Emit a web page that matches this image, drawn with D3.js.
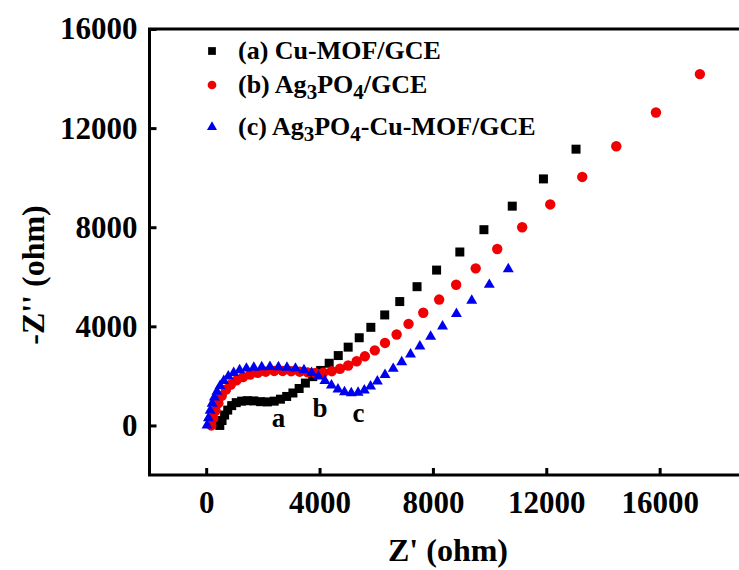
<!DOCTYPE html>
<html>
<head>
<meta charset="utf-8">
<script src="https://cdn.jsdelivr.net/npm/d3@7"></script>
<style>
  body { margin: 0; background: #fff; }
  text { font-family: "Liberation Serif", "Times New Roman", serif; font-weight: bold; }
</style>
</head>
<body>
<svg id="chart"></svg>
<script>
// Nyquist data (ohm)
const cuMofX = [480, 560, 650, 760, 900, 1060, 1250, 1450, 1680, 1920, 2160, 2400, 2620, 2840, 3060, 3280, 3500, 3760, 4040, 4340, 4660, 5010, 5400, 5810, 6300, 6830, 7440, 8130, 8950, 9800, 10800, 11900, 13050]
const cuMofY = [0, 200, 420, 620, 800, 920, 980, 1000, 990, 960, 950, 980, 1060, 1170, 1310, 1490, 1710, 1970, 2220, 2510, 2820, 3160, 3540, 3960, 4460, 5000, 5600, 6270, 7000, 7900, 8850, 9950, 11150]

const ag3po4X = [180, 250, 330, 430, 550, 700, 870, 1070, 1300, 1550, 1820, 2100, 2400, 2700, 3000, 3300, 3580, 3850, 4130, 4430, 4720, 5010, 5310, 5600, 5950, 6310, 6720, 7140, 7660, 8220, 8820, 9510, 10270, 11150, 12140, 13270, 14470, 15870, 17420]
const ag3po4Y = [0, 300, 600, 900, 1200, 1450, 1650, 1820, 1950, 2050, 2120, 2170, 2200, 2200, 2190, 2170, 2140, 2120, 2130, 2190, 2290, 2420, 2590, 2790, 3030, 3330, 3670, 4100, 4550, 5080, 5680, 6340, 7120, 8000, 8920, 10030, 11270, 12630, 14180]

const compositeX = [30, 80, 140, 210, 290, 380, 490, 620, 780, 970, 1180, 1420, 1680, 1960, 2250, 2550, 2850, 3150, 3450, 3720, 3960, 4190, 4420, 4650, 4880, 5120, 5360, 5580, 5800, 6040, 6310, 6600, 6900, 7210, 7540, 7920, 8340, 8830, 9370, 9990, 10660]
const compositeY = [0, 300, 600, 880, 1130, 1370, 1600, 1800, 1980, 2120, 2230, 2300, 2340, 2360, 2370, 2360, 2340, 2300, 2230, 2120, 1980, 1800, 1620, 1460, 1350, 1310, 1330, 1420, 1580, 1780, 2040, 2290, 2560, 2870, 3190, 3590, 4000, 4500, 5040, 5680, 6310]

const xTicks = [0, 4000, 8000, 12000, 16000]
const yTicks = [0, 4000, 8000, 12000, 16000]

// curve letters next to the arcs
const curveLabels = ['a', 'b', 'c']
const curveLabelX = [2550, 4020, 5370]
const curveLabelY = [-80, 330, 130]

const legendNames = ['(a) Cu-MOF/GCE', '(b) Ag3PO4/GCE', '(c) Ag3PO4-Cu-MOF/GCE']

const width = 739
const height = 570

const series = [
    {key: 'a', colour: '#000000', shape: d3.symbolSquare, size: 81, value: cuMofX.map((x, i) => ({x, y: cuMofY[i]}))},
    {key: 'b', colour: '#f00000', shape: d3.symbolCircle, size: 85, value: ag3po4X.map((x, i) => ({x, y: ag3po4Y[i]}))},
    {key: 'c', colour: '#0000f0', shape: d3.symbolTriangle, size: 52, value: compositeX.map((x, i) => ({x, y: compositeY[i]}))}
]

// set up svg container
const svg = d3.select('#chart')
    .attr('width', width)
    .attr('height', height)

// set up scale (frame runs off the right edge like the source image)
const xScale = d3.scaleLinear()
    .domain([-2000, 20000])
    .range([149.5, 773])
const yScale = d3.scaleLinear()
    .domain([-2000, 16000])
    .range([475, 29])

// draw dots
svg.selectAll('.series')
    .data(series)
    .enter()
        .append('g')
        .attr('class', 'series')
        .style('fill', d => d.colour)
    .each(function (s) {
        d3.select(this).selectAll('path')
            .data(s.value)
            .enter()
            .append('path')
                .attr('d', d3.symbol().type(s.shape).size(s.size))
                .attr('transform', d => `translate(${xScale(d.x)}, ${yScale(d.y)})`)
    })

// frame
svg.append('rect')
    .attr('x', xScale(-2000))
    .attr('y', yScale(16000))
    .attr('width', xScale(20000) - xScale(-2000))
    .attr('height', yScale(-2000) - yScale(16000))
    .style('fill', 'none')
    .style('stroke', '#000')
    .style('stroke-width', 3)

// set up axes, ticks point inwards
const xAxis = d3.axisBottom(xScale)
    .tickValues(xTicks)
    .tickSizeInner(-7)
    .tickSizeOuter(0)
    .tickPadding(16)
    .tickFormat(d3.format('d'))
const yAxis = d3.axisLeft(yScale)
    .tickValues(yTicks)
    .tickSizeInner(-7)
    .tickSizeOuter(0)
    .tickPadding(12)
    .tickFormat(d3.format('d'))

const gx = svg.append('g')
    .attr('transform', `translate(0, ${yScale(-2000)})`)
    .call(xAxis)
const gy = svg.append('g')
    .attr('transform', `translate(${xScale(-2000)}, 0)`)
    .call(yAxis)

for (const g of [gx, gy]) {
    g.select('.domain').remove()
    g.selectAll('.tick line').style('stroke', '#000').style('stroke-width', 3)
    g.selectAll('.tick text')
        .style('font-family', '"Liberation Serif", serif')
        .style('font-weight', 'bold')
        .style('font-size', '31px')
        .style('fill', '#000')
}

// axis titles
svg.append('text')
    .attr('x', 448)
    .attr('y', 561)
    .attr('text-anchor', 'middle')
    .style('font-size', '32px')
    .text("Z' (ohm)")
svg.append('text')
    .attr('transform', 'translate(44, 275) rotate(-90)')
    .attr('text-anchor', 'middle')
    .style('font-size', '32px')
    .text("-Z'' (ohm)")

// letters on the curves
svg.selectAll('.curve-label')
    .data(curveLabels)
    .enter()
    .append('text')
        .attr('class', 'curve-label')
        .attr('x', (d, i) => xScale(curveLabelX[i]))
        .attr('y', (d, i) => yScale(curveLabelY[i]))
        .attr('text-anchor', 'middle')
        .style('font-size', '27px')
        .text(d => d)

// legend
const legendY = [51, 85, 127]
const legend = svg.append('g')
series.forEach((s, i) => {
    legend.append('path')
        .attr('d', d3.symbol().type(s.shape).size(i === 2 ? 44 : 60))
        .attr('transform', `translate(212, ${legendY[i]})`)
        .style('fill', s.colour)
    const t = legend.append('text')
        .attr('x', 238)
        .attr('y', legendY[i] + 8)
        .style('font-size', '26px')
    // split on the digit subscripts of Ag3PO4
    const name = legendNames[i]
    const parts = name.split(/(\d)/)
    let down = false
    parts.forEach(p => {
        if (p === '') return
        const isSub = /^\d$/.test(p)
        const span = t.append('tspan').text(p)
        if (isSub) {
            span.attr('dy', 6).style('font-size', '21px')
            down = true
        } else if (down) {
            span.attr('dy', -6)
            down = false
        }
    })
})
</script>
</body>
</html>
